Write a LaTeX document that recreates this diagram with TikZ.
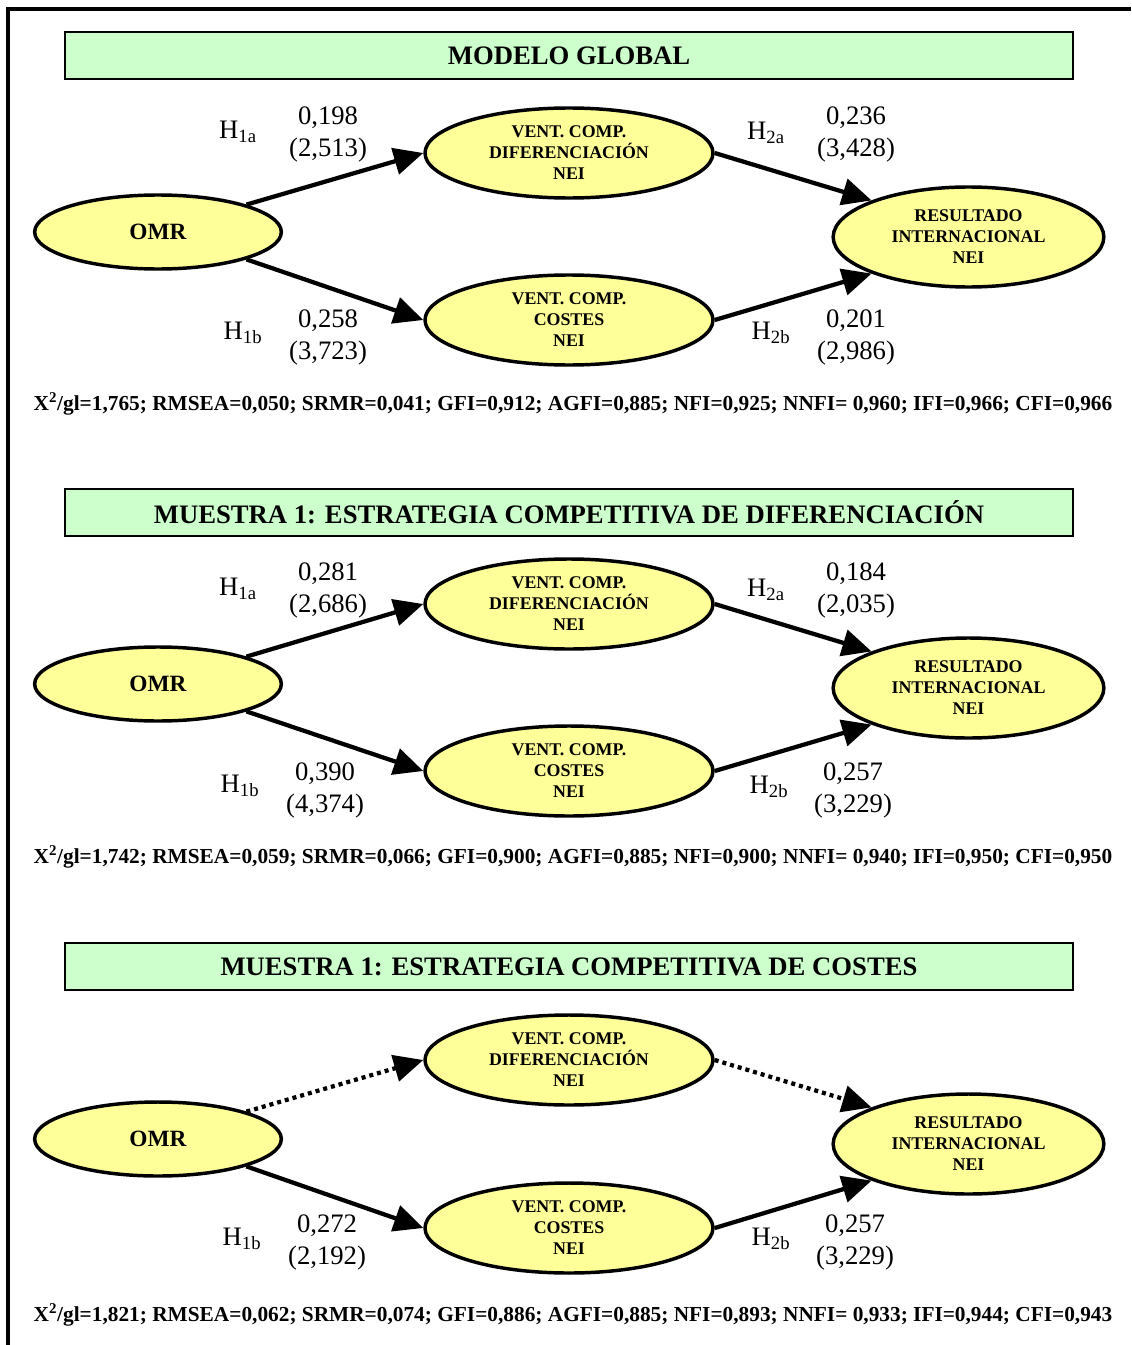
\documentclass[tikz,border=0pt]{standalone}
\usepackage{fontspec}
\setmainfont{Liberation Serif}
\usetikzlibrary{shapes.geometric,arrows.meta}
\definecolor{titlefill}{RGB}{204,255,204}
\definecolor{varfill}{RGB}{255,255,153}
\begin{document}
\begin{tikzpicture}[x=0.75pt,y=-0.75pt,
  var/.style={ellipse,draw,line width=2.6pt,fill=varfill,inner sep=0pt,align=center,
    font=\fontsize{13.4}{15.75}\selectfont\bfseries},
  omr/.style={var,minimum width=185pt,minimum height=55.5pt,
    font=\fontsize{17.5}{20}\selectfont\bfseries},
  mid/.style={var,minimum width=216pt,minimum height=67.5pt},
  res/.style={var,minimum width=203pt,minimum height=75pt},
  titlebox/.style={draw,fill=titlefill,line width=0.8pt,minimum width=756pt,
    minimum height=35.25pt,font=\fontsize{20}{24}\selectfont\bfseries},
  effect/.style={line width=3.2pt,-{Triangle[length=22pt,width=20pt]}},
  noeffect/.style={effect,dash pattern=on 3pt off 3pt},
  hyp/.style={font=\fontsize{20}{24}\selectfont},
  coef/.style={align=center,font=\fontsize{20}{24}\selectfont},
  fitline/.style={font=\fontsize{16}{19}\selectfont\bfseries}]
\useasboundingbox (0,0) rectangle (1131,1345);
\draw[line width=2.6pt] (8,1345) -- (8,9) -- (1131,9);

% modelo global
\node[titlebox] (titleA) at (569,55.5) {MODELO GLOBAL};
\node[omr] (omrA) at (158,232) {OMR};
\node[mid] (difA) at (569,153) {VENT. COMP.\\DIFERENCIACIÓN\\NEI};
\node[mid] (cosA) at (569,320) {VENT. COMP.\\COSTES\\NEI};
\node[res] (resA) at (968.5,237) {RESULTADO\\INTERNACIONAL\\NEI};
\draw[effect] (omrA.north east) -- (difA.west);
\draw[effect] (omrA.south east) -- (cosA.west);
\draw[effect] (difA.east) -- (resA.north west);
\draw[effect] (cosA.east) -- (resA.south west);
\node[hyp] (h1aA) at (238,132) {H\textsubscript{1a}};
\node[coef] (c1aA) at (328,134) {0,198\\(2,513)};
\node[hyp] (h2aA) at (766,133) {H\textsubscript{2a}};
\node[coef] (c2aA) at (856,134) {0,236\\(3,428)};
\node[hyp] (h1bA) at (243,333) {H\textsubscript{1b}};
\node[coef] (c1bA) at (328,337) {0,258\\(3,723)};
\node[hyp] (h2bA) at (771,333) {H\textsubscript{2b}};
\node[coef] (c2bA) at (856,337) {0,201\\(2,986)};
\node[fitline] (fitA) at (573,404) {X\textsuperscript{2}/gl=1,765; RMSEA=0,050; SRMR=0,041; GFI=0,912; AGFI=0,885; NFI=0,925; NNFI= 0,960; IFI=0,966; CFI=0,966};

% muestra 1: diferenciacion
\node[titlebox] (titleB) at (569,512.5) {MUESTRA 1: ESTRATEGIA COMPETITIVA DE DIFERENCIACIÓN};
\node[omr] (omrB) at (158,684) {OMR};
\node[mid] (difB) at (569,604) {VENT. COMP.\\DIFERENCIACIÓN\\NEI};
\node[mid] (cosB) at (569,771) {VENT. COMP.\\COSTES\\NEI};
\node[res] (resB) at (968.5,688) {RESULTADO\\INTERNACIONAL\\NEI};
\draw[effect] (omrB.north east) -- (difB.west);
\draw[effect] (omrB.south east) -- (cosB.west);
\draw[effect] (difB.east) -- (resB.north west);
\draw[effect] (cosB.east) -- (resB.south west);
\node[hyp] (h1aB) at (238,589) {H\textsubscript{1a}};
\node[coef] (c1aB) at (328,590) {0,281\\(2,686)};
\node[hyp] (h2aB) at (766,590) {H\textsubscript{2a}};
\node[coef] (c2aB) at (856,590) {0,184\\(2,035)};
\node[hyp] (h1bB) at (240,786) {H\textsubscript{1b}};
\node[coef] (c1bB) at (325,790) {0,390\\(4,374)};
\node[hyp] (h2bB) at (769,787) {H\textsubscript{2b}};
\node[coef] (c2bB) at (853,790) {0,257\\(3,229)};
\node[fitline] (fitB) at (573,857) {X\textsuperscript{2}/gl=1,742; RMSEA=0,059; SRMR=0,066; GFI=0,900; AGFI=0,885; NFI=0,900; NNFI= 0,940; IFI=0,950; CFI=0,950};

% muestra 1: costes
\node[titlebox] (titleC) at (569,966.5) {MUESTRA 1: ESTRATEGIA COMPETITIVA DE COSTES};
\node[omr] (omrC) at (158,1139) {OMR};
\node[mid] (difC) at (569,1060) {VENT. COMP.\\DIFERENCIACIÓN\\NEI};
\node[mid] (cosC) at (569,1228) {VENT. COMP.\\COSTES\\NEI};
\node[res] (resC) at (968.5,1144) {RESULTADO\\INTERNACIONAL\\NEI};
\draw[noeffect] (omrC.north east) -- (difC.west);
\draw[effect] (omrC.south east) -- (cosC.west);
\draw[noeffect] (difC.east) -- (resC.north west);
\draw[effect] (cosC.east) -- (resC.south west);
\node[hyp] (h1bC) at (242,1239) {H\textsubscript{1b}};
\node[coef] (c1bC) at (327,1242) {0,272\\(2,192)};
\node[hyp] (h2bC) at (771,1239) {H\textsubscript{2b}};
\node[coef] (c2bC) at (855,1242) {0,257\\(3,229)};
\node[fitline] (fitC) at (573,1315) {X\textsuperscript{2}/gl=1,821; RMSEA=0,062; SRMR=0,074; GFI=0,886; AGFI=0,885; NFI=0,893; NNFI= 0,933; IFI=0,944; CFI=0,943};
\end{tikzpicture}
\end{document}
